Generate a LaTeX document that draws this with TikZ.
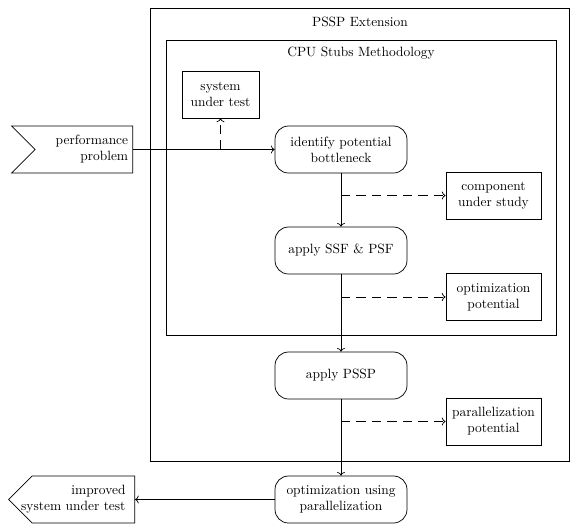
\documentclass[tikz,border=0pt]{standalone}
\usepackage{amsmath}
\usetikzlibrary{arrows.meta}
\usetikzlibrary{calc,positioning}
\usetikzlibrary{shapes.symbols}

\begin{document}
\begin{tikzpicture}[x=0.745pt, y=-0.745pt, line width=0.55pt,
    activity/.style={draw, rounded corners=10pt, align=center, minimum width=98.3pt, minimum height=35pt},
    artefact/.style={draw, rectangle, align=center, minimum width=70.8pt, minimum height=35pt},
    inflow/.style={draw, signal, signal from=west, signal to=nowhere, align=right, minimum height=35pt},
    outflow/.style={draw, signal, signal to=west, signal from=nowhere, align=right, minimum height=35pt},
    dashline/.style={dash pattern=on 7pt off 4.5pt}]

    \useasboundingbox (0,0) rectangle (570,523);

    % frames
    \draw (150,8) rectangle (569,461);
    \node (pssptitle) at (360,22) {PSSP Extension};
    \draw (166,40) rectangle (556,335);
    \node (cputitle) at (361,53) {CPU Stubs Methodology};

    % steps of the method
    \node[activity] (ident) at (341,149.5) {identify potential\\bottleneck};
    \node[activity] (ssf) at (341,250.5) {apply SSF \& PSF};
    \node[activity] (pssp) at (341,375.5) {apply PSSP};
    \node[activity] (optpar) at (341,499.5) {optimization using\\parallelization};

    % results
    \node[artefact, minimum width=57.4pt] (sut) at (220.5,94.5) {system\\under test};
    \node[artefact] (cus) at (493.5,195.5) {component\\under study};
    \node[artefact] (optpot) at (493.5,297) {optimization\\potential};
    \node[artefact] (parpot) at (493.5,421.5) {parallelization\\potential};

    % input and output
    \node[inflow, text width=66pt, anchor=east] (perf) at (133,149.5) {performance\\problem};
    \node[outflow, text width=69.7pt, anchor=east] (impr) at (135,499.5) {};
    \node[anchor=east, align=right] (imprtext) at ([xshift=-3.5pt]impr.east) {improved\\system under test};

    \draw[->] (perf.east) -- (ident.west);
    \draw[->, dashline] (sut.south |- ident.west) -- (sut.south);
    \draw[->] (ident.south) -- (ssf.north);
    \draw[->, dashline] (ident.south |- cus.west) -- (cus.west);
    \draw[->] (ssf.south) -- (pssp.north);
    \draw[->, dashline] (ssf.south |- optpot.west) -- (optpot.west);
    \draw[->] (pssp.south) -- (optpar.north);
    \draw[->, dashline] (pssp.south |- parpot.west) -- (parpot.west);
    \draw[->] (optpar.west) -- (impr.east);

\end{tikzpicture}
\end{document}
